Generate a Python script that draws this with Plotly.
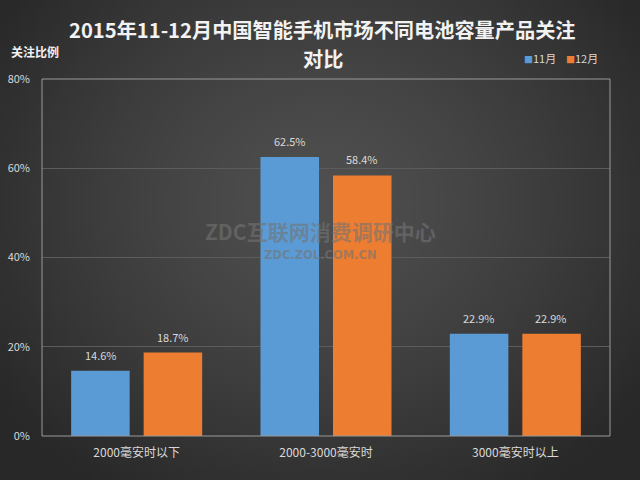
import base64, struct, zlib
import numpy as np
import plotly.graph_objects as go

categories = ["2000毫安时以下", "2000-3000毫安时", "3000毫安时以上"]
nov = [14.6, 62.5, 22.9]
dec = [18.7, 58.4, 22.9]
series_names = ["11月", "12月"]
series_colors = ["#5b9bd5", "#ed7d31"]
y_ticks = [0, 20, 40, 60, 80]
y_tick_labels = ["0%", "20%", "40%", "60%", "80%"]
title_lines = ["2015年11-12月中国智能手机市场不同电池容量产品关注", "对比"]

W, H = 640, 480
ML, MR, MT, MB = 42, 30, 79, 44
PW, PH = W - ML - MR, H - MT - MB


def px_x(p):
    return (p - ML) / PW


def px_y(p):
    return 1 - (p - MT) / PH


def radial_png(w, h):
    yy, xx = np.mgrid[0:h, 0:w]
    cx, cy = w * 0.5, h * 0.42
    d = np.sqrt(((xx - cx) / (w * 0.62)) ** 2 + ((yy - cy) / (h * 0.72)) ** 2)
    d = np.clip(d, 0, 1)
    inner, outer = 80, 40
    v = (inner + (outer - inner) * d ** 1.3).astype(np.uint8)
    raw = b"".join(b"\x00" + bytes(np.repeat(row, 3)) for row in v)

    def chunk(t, data):
        c = struct.pack(">I", len(data)) + t + data
        return c + struct.pack(">I", zlib.crc32(t + data) & 0xFFFFFFFF)

    png = b"\x89PNG\r\n\x1a\n" + chunk(b"IHDR", struct.pack(">IIBBBBB", w, h, 8, 2, 0, 0, 0))
    png += chunk(b"IDAT", zlib.compress(raw, 9)) + chunk(b"IEND", b"")
    return "data:image/png;base64," + base64.b64encode(png).decode()


font_cn = "Noto Sans CJK SC"
label_color = "#d9d9d9"

fig = go.Figure()
for vals, name, col in zip([nov, dec], series_names, series_colors):
    fig.add_trace(go.Bar(
        x=categories, y=vals, name=name,
        marker=dict(color=col, line=dict(width=0)),
        showlegend=False,
    ))

annotations = []
# data labels above bars
offsets = [-36, 36]
for vals, dx in zip([nov, dec], offsets):
    for c, v in zip(categories, vals):
        annotations.append(dict(
            x=c, y=v, xref="x", yref="y", text=f"{v:.1f}%", showarrow=False,
            xshift=dx, yshift=16, yanchor="middle", xanchor="center",
            font=dict(size=11, color=label_color, family=font_cn),
        ))

annotations += [
    dict(text=title_lines[0], xref="paper", yref="paper",
         x=px_x(322), y=px_y(29.5), xanchor="center", yanchor="middle", showarrow=False,
         font=dict(size=20.2, color="#f2f2f2", family=font_cn, weight="bold")),
    dict(text=title_lines[1], xref="paper", yref="paper",
         x=px_x(323), y=px_y(59), xanchor="center", yanchor="middle", showarrow=False,
         font=dict(size=20.2, color="#f2f2f2", family=font_cn, weight="bold")),
    dict(text="<b>关注比例</b>", xref="paper", yref="paper", x=px_x(9),
         y=px_y(51), xanchor="left", yanchor="middle", showarrow=False,
         font=dict(size=12, color="#f2f2f2", family=font_cn)),
    dict(text=f"<span style='color:{series_colors[0]};font-size:9px'>■</span>{series_names[0]}",
         xref="paper", yref="paper", x=px_x(522), y=px_y(58), xanchor="left", yanchor="middle",
         showarrow=False, font=dict(size=11, color=label_color, family=font_cn)),
    dict(text=f"<span style='color:{series_colors[1]};font-size:9px'>■</span>{series_names[1]}",
         xref="paper", yref="paper", x=px_x(564), y=px_y(58), xanchor="left", yanchor="middle",
         showarrow=False, font=dict(size=11, color=label_color, family=font_cn)),
    dict(text="<b>ZDC互联网消费调研中心</b>", xref="paper", yref="paper", x=px_x(320), y=px_y(231),
         xanchor="center", yanchor="middle", showarrow=False,
         font=dict(size=21, color="rgba(115,115,115,0.6)", family=font_cn)),
    dict(text="<b>ZDC.ZOL.COM.CN</b>", xref="paper", yref="paper", x=px_x(320), y=px_y(255),
         xanchor="center", yanchor="middle", showarrow=False,
         font=dict(size=11.5, color="rgba(115,115,115,0.6)", family="DejaVu Sans")),
]

fig.update_layout(
    width=W, height=H,
    margin=dict(l=ML, r=MR, t=MT, b=MB, autoexpand=False),
    paper_bgcolor="#3a3a3a",
    plot_bgcolor="rgba(0,0,0,0)",
    barmode="group", bargap=0.234, bargroupgap=0.193,
    font=dict(family=font_cn, color=label_color, size=11),
    showlegend=False,
    xaxis=dict(
        range=[-0.5, len(categories) - 0.5], autorange=False, automargin=False,
        showgrid=False, showline=False, ticks="", ticklabelstandoff=8,
        tickfont=dict(size=12, color=label_color),
    ),
    yaxis=dict(
        range=[0, 80], tickvals=y_ticks, ticktext=y_tick_labels, automargin=False,
        showgrid=True, gridcolor="#5c5c5c", gridwidth=1, zeroline=False,
        showline=False, ticks="", ticklabelstandoff=11,
        tickfont=dict(size=11, color=label_color),
    ),
    images=[dict(
        source=radial_png(160, 120), xref="paper", yref="paper",
        x=-ML / PW, y=1 + MT / PH, sizex=W / PW, sizey=H / PH,
        xanchor="left", yanchor="top", sizing="stretch", layer="below",
    )],
    shapes=[
        dict(type="rect", xref="paper", yref="paper", x0=0, x1=1, y0=0, y1=1,
             line=dict(color="#9a9a9a", width=1), layer="above"),
    ],
    annotations=annotations,
)

fig.write_html("out.html")
